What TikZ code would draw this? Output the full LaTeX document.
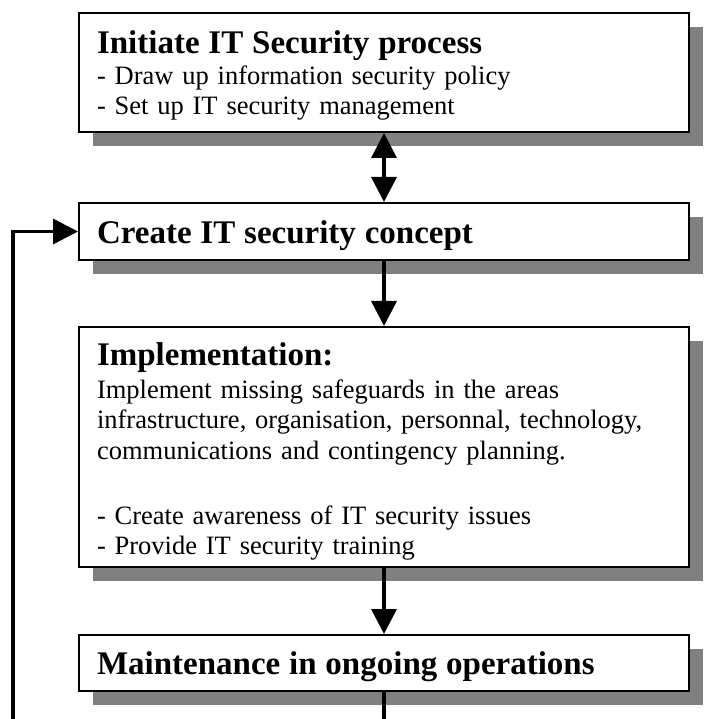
\documentclass[tikz,border=0pt]{standalone}
\usepackage{fontspec}
\setmainfont{Liberation Serif}
\usetikzlibrary{positioning, shadows, arrows.meta}
\tikzset{
    x=1pt, y=1pt,% one unit is one pixel of the reference drawing
    phase/.style={draw, line width=2pt, fill=white, text width=574pt, inner xsep=18pt, inner ysep=0pt, align=left,
        font=\fontsize{26.5}{30.5}\selectfont,
        drop shadow={shadow xshift=14pt, shadow yshift=-14pt, fill=black!50, opacity=1}},
    flow/.style={line width=3.5pt, >={Triangle[length=25pt, width=25pt]}},
}
\newcommand{\phasetitle}[1]{{\fontsize{33}{30.5}\selectfont\bfseries #1}}

\begin{document}
\begin{tikzpicture}
            \useasboundingbox (0,0) rectangle (723,-719);
            \node[phase, anchor=north west, text height=41pt, text depth=78pt] (init) at (78,-12)
                {\phasetitle{Initiate IT Security process}\\
                 - Draw up information security policy\\
                 - Set up IT security management};
            \node[phase, below=69pt of init, text height=41pt, text depth=16pt] (concept)
                {\phasetitle{Create IT security concept}};
            \node[phase, below=65pt of concept, text height=38pt, text depth=202pt] (impl)
                {\phasetitle{Implementation:}\\[2.5pt]
                 Implement missing safeguards in the areas\\
                 infrastructure, organisation, personnal, technology,\\
                 communications and contingency planning.\\[35pt]
                 - Create awareness of IT security issues\\
                 - Provide IT security training};
            \node[phase, below=66pt of impl, text height=39pt, text depth=17pt] (maint)
                {\phasetitle{Maintenance in ongoing operations}};
            \coordinate (exit) at (maint.south |- 0,-719);
            \coordinate (loop) at (13,-719);
            \draw[flow, <->] (init) -- (concept);
            \draw[flow, ->] (concept) -- (impl);
            \draw[flow, ->] (impl) -- (maint);
            \draw[flow] (maint) -- (exit);
            \draw[flow, ->] (loop) |- (concept);
        \end{tikzpicture}
\end{document}
